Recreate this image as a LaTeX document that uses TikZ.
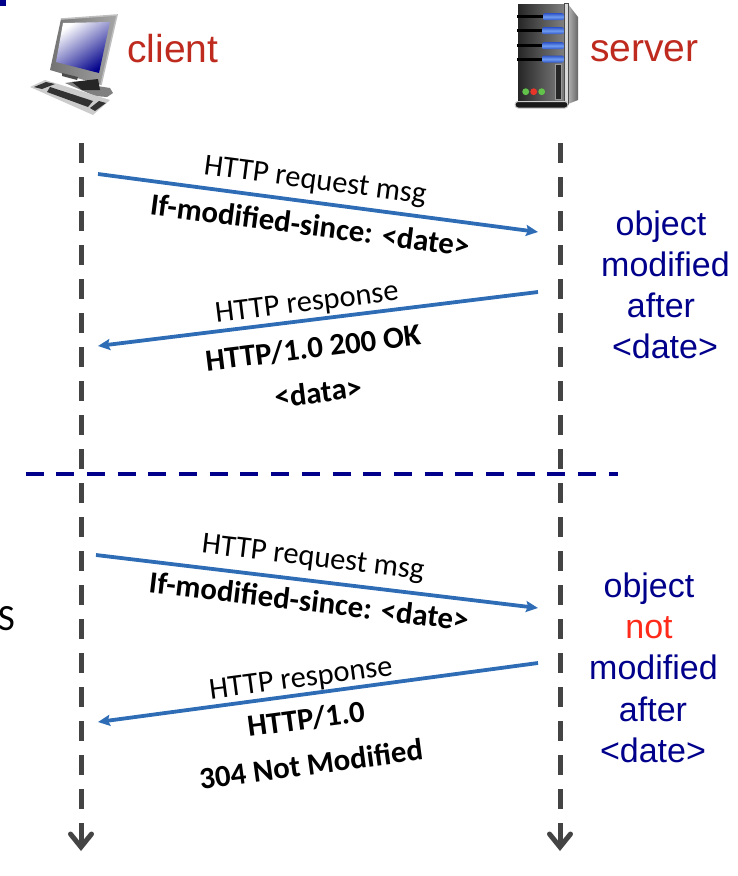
\documentclass[tikz,border=0pt]{standalone}
\usepackage{fontspec}
\usepackage{tikz}
\usetikzlibrary{arrows.meta}
\newfontfamily\arialfont{Liberation Sans}
\newfontfamily\calibrifont{Carlito}
\definecolor{hostred}{HTML}{BE2A1E}
\definecolor{notred}{HTML}{FF2A1A}
\definecolor{noteblue}{HTML}{00008B}
\definecolor{msgblue}{HTML}{2E6DB6}
\definecolor{lifegray}{HTML}{444444}
\definecolor{slotblue}{HTML}{6F9CF0}
\definecolor{slotdark}{HTML}{2F55C8}
\definecolor{ledgreen}{HTML}{62C34A}
\definecolor{ledred}{HTML}{E8352A}
\tikzset{
  host/.style={font=\arialfont\fontsize{39}{39}\selectfont, text=hostred, anchor=base, inner sep=0pt},
  note/.style={font=\arialfont\fontsize{34}{34}\selectfont, text=noteblue, anchor=base, inner sep=0pt},
  msg/.style={font=\calibrifont\fontsize{30.5}{30.5}\selectfont, inner sep=0pt},
  msgbold/.style={font=\calibrifont\bfseries\fontsize{30.8}{30.8}\selectfont, inner sep=0pt},
  lifeline/.style={draw=lifegray, line width=5pt, dash pattern=on 19.5pt off 14.5pt,
    -{Straight Barb[length=13pt,width=21pt,line cap=round]}},
  msgline/.style={draw=msgblue, line width=3.8pt, -{Stealth[length=12pt,width=11pt,inset=2pt]}},
  divider/.style={draw=noteblue, line width=4pt, dash pattern=on 18pt off 12.7pt}
}
\begin{document}
\begin{tikzpicture}[x=1pt,y=-1pt]
\useasboundingbox (0,0) rectangle (738,876);
\fill[noteblue] (0,0) rectangle (5.5,5.5);

% client computer
\shade[left color=black!55, right color=black!35] (61,19) -- (117,15) -- (101,85) -- (50,70) -- cycle;
\draw[black!25, line width=1.5pt] (61,19) -- (117,15) -- (101,85);
\shade[left color=white, right color=noteblue, shading angle=35]
  (63,23) -- (110,22) -- (99,73) -- (56,62) -- cycle;
\fill[black!70] (62,73) -- (78,77) -- (77,80) -- (62,76) -- cycle;
\fill[black!50] (65,83) -- (72,82) -- (110,88) -- (113,93) -- (107,97) -- (95,96) -- cycle;
\fill[black!85] (72,82) -- (98,79) -- (100,90) -- (82,90) -- cycle;
\fill[black!20] (30,87) -- (45,80) -- (110,100) -- (93,115) -- cycle;
\fill[black!80] (50,87) -- (93,101) -- (88,107) -- (47,92) -- cycle;
\fill[black!80] (34,87) -- (46,82) -- (55,84) -- (42,89) -- cycle;
\fill[black!80] (90,108) -- (99,101) -- (106,103) -- (95,111) -- cycle;

% server box
\shade[left color=black!85, right color=black!50] (518,4) rectangle (564,102);
\shade[left color=black!30, right color=black!60] (568,4) -- (578,17) -- (578,100) -- (568,104) -- cycle;
\fill[black!15] (564,3) rectangle (568,104);
\draw[black!70, line width=.7pt] (564,3) rectangle (568,104);
\foreach \ypos/\xend in {16.7/543,30.7/542,45.7/542,59/542}{
  \draw[black, line width=3pt] (517,\ypos) -- (\xend,\ypos);
  \shade[top color=slotdark, bottom color=slotdark, middle color=slotblue, rounded corners=2pt]
    (\xend,\ypos-3.5) rectangle (564,\ypos+3.5);
}
\fill[black!85] (555,64) rectangle (561,99);
\draw[black!40, line width=.5pt] (555,64) rectangle (561,99);
\fill[ledgreen] (525.7,91.7) circle (3.4pt);
\fill[ledred] (533.7,91.7) circle (3.4pt);
\fill[ledgreen] (541.7,91.7) circle (3.4pt);
\draw[black!20, fill=black!90, line width=1pt, rounded corners=3pt] (515,101.5) rectangle (568,108);

\node[host] (client) at (173,62) {client};
\node[host] (server) at (644.5,61) {server};

\coordinate (clienttop) at (81,143);
\coordinate (clientend) at (81,851);
\coordinate (servertop) at (560,143);
\coordinate (serverend) at (560,851);
\draw[lifeline] (clienttop) -- (clientend);
\draw[lifeline] (servertop) -- (serverend);

\coordinate (dividerl) at (25.5,473.5);
\coordinate (dividerr) at (618,473.5);
\draw[divider] (dividerl) -- (dividerr);

% first exchange
\coordinate (reqa) at (98,174);
\coordinate (reqb) at (538,232);
\coordinate (respa) at (538,292);
\coordinate (respb) at (98,346);
\draw[msgline] (reqa) -- (reqb);
\draw[msgline] (respa) -- (respb);
\node[msg, rotate=-7.5] (reqtext) at (315,182) {HTTP request msg};
\node[msgbold, rotate=-7.5] (sincetext) at (310,225) {If-modified-since: <date>};
\node[msg, rotate=7] (resptext) at (307,304) {HTTP response};
\node[msgbold, rotate=7] (oktext) at (313,348) {HTTP/1.0 200 OK};
\node[msgbold, rotate=7] (datatext) at (318,392) {<data>};

% second exchange
\coordinate (reqc) at (96,555);
\coordinate (reqd) at (538,608);
\coordinate (respc) at (538,663);
\coordinate (respd) at (98,722);
\draw[msgline] (reqc) -- (reqd);
\draw[msgline] (respc) -- (respd);
\node[msg, rotate=-6.8] (reqtwo) at (313,559) {HTTP request msg};
\node[msgbold, rotate=-6.8] (sincetwo) at (309,601) {If-modified-since: <date>};
\node[msg, rotate=7.6] (resptwo) at (301,680) {HTTP response};
\node[msgbold, rotate=7.6] (vertext) at (306,719) {HTTP/1.0};
\node[msgbold, rotate=7.6] (nottext) at (311,764) {304 Not Modified};

\node[note] (oba) at (661,235) {object};
\node[note] (moda) at (665.5,276) {modified};
\node[note] (afta) at (661,317) {after};
\node[note] (dtea) at (665,358) {<date>};

\node[note] (obb) at (649,597) {object};
\node[note, text=notred] (notb) at (649,638) {not};
\node[note] (modb) at (653.5,679) {modified};
\node[note] (aftb) at (653,721) {after};
\node[note] (dteb) at (653,762) {<date>};

\node[font=\calibrifont\fontsize{37}{37}\selectfont, inner sep=0pt] (cutoff) at (6.5,619) {S};
\end{tikzpicture}
\end{document}
